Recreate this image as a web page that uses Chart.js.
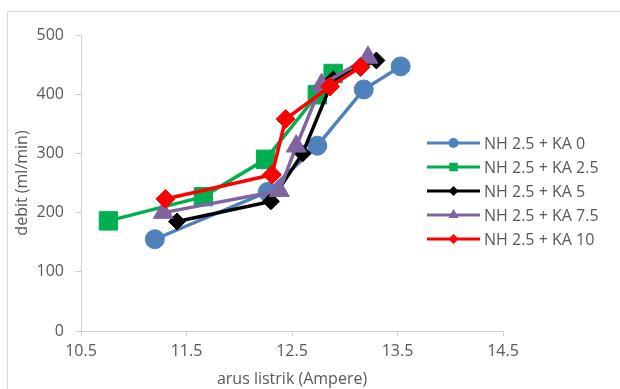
<!DOCTYPE html>
<html>
<head>
<meta charset="utf-8">
<script src="https://cdn.jsdelivr.net/npm/chart.js@4/dist/chart.umd.min.js"></script>
<style>
    body { margin: 0; background: #fff; }
    #frame { position: absolute; left: 7px; top: 11px; width: 700px; height: 500px; border: 1px solid #d9d9d9; }
    #wrap { position: absolute; left: 0; top: 0; width: 620px; height: 389px; }
</style>
</head>
<body>
<div id="frame"></div>
<div id="wrap"><canvas id="chart"></canvas></div>
<script>
// series: arus listrik (A) vs debit (ml/min)
const seriesLabels = ['NH 2.5 + KA 0', 'NH 2.5 + KA 2.5', 'NH 2.5 + KA 5', 'NH 2.5 + KA 7.5', 'NH 2.5 + KA 10'];

const ka0X = [11.2, 12.27, 12.74, 13.18, 13.53];
const ka0Y = [155, 235, 313, 408, 447];
const ka25X = [10.76, 11.66, 12.25, 12.74, 12.89];
const ka25Y = [186, 227, 290, 399, 435];
const ka5X = [11.41, 12.3, 12.6, 12.89, 13.3];
const ka5Y = [185, 219, 300, 425, 457];
const ka75X = [11.28, 12.38, 12.54, 12.78, 13.22];
const ka75Y = [200, 237, 312, 416, 462];
const ka10X = [11.3, 12.31, 12.44, 12.86, 13.15];
const ka10Y = [223, 264, 358, 413, 446];

const xTicks = [10.5, 11.5, 12.5, 13.5, 14.5];
const yTicks = [0, 100, 200, 300, 400, 500];

const colors = ['#4F81BD', '#00B050', '#000000', '#8064A2', '#FF0000'];
const styles = ['circle', 'rect', 'rectRot', 'triangle', 'rectRot'];
const radii = [9.5, 13, 8.5, 11.5, 9.5];
const legendRadii = [5, 6, 5, 6, 5];

const TEXT = '#595959';
const FONT = "'Open Sans', 'Noto Sans', sans-serif";

function toPoints(xs, ys) {
    return xs.map((x, i) => ({ x: x, y: ys[i] }));
}

const allX = [ka0X, ka25X, ka5X, ka75X, ka10X];
const allY = [ka0Y, ka25Y, ka5Y, ka75Y, ka10Y];

const datasets = seriesLabels.map((label, i) => ({
    label: label,
    data: toPoints(allX[i], allY[i]),
    borderColor: colors[i],
    backgroundColor: colors[i],
    pointBackgroundColor: colors[i],
    pointBorderColor: colors[i],
    pointStyle: styles[i],
    pointRadius: radii[i],
    pointBorderWidth: 1,
    borderWidth: 3.5,
    showLine: true,
    tension: 0,
    order: 5 - i,
}));

function drawMarker(ctx, style, r, x, y) {
    ctx.beginPath();
    if (style === 'circle') {
        ctx.arc(x, y, r, 0, Math.PI * 2);
    } else if (style === 'rect') {
        const s = r * Math.SQRT1_2;
        ctx.rect(x - s, y - s, 2 * s, 2 * s);
    } else if (style === 'rectRot') {
        ctx.moveTo(x, y - r);
        ctx.lineTo(x + r, y);
        ctx.lineTo(x, y + r);
        ctx.lineTo(x - r, y);
        ctx.closePath();
    } else if (style === 'triangle') {
        ctx.moveTo(x, y - r);
        ctx.lineTo(x + r * Math.sin(Math.PI / 3), y + r / 2);
        ctx.lineTo(x - r * Math.sin(Math.PI / 3), y + r / 2);
        ctx.closePath();
    }
    ctx.fill();
}

// Excel style legend: line with marker, then label
const lineLegend = {
    id: 'lineLegend',
    afterDraw(chart) {
        const ctx = chart.ctx;
        ctx.save();
        ctx.font = '16px ' + FONT;
        ctx.textBaseline = 'middle';
        seriesLabels.forEach((label, i) => {
            const y = 143 + i * 24;
            ctx.strokeStyle = colors[i];
            ctx.fillStyle = colors[i];
            ctx.lineWidth = 3;
            ctx.beginPath();
            ctx.moveTo(427, y);
            ctx.lineTo(480, y);
            ctx.stroke();
            drawMarker(ctx, styles[i], legendRadii[i], 453.5, y);
            ctx.fillStyle = TEXT;
            ctx.fillText(label, 484, y + 1);
        });
        ctx.restore();
    }
};

new Chart(document.getElementById('chart'), {
    type: 'scatter',
    data: { datasets: datasets },
    options: {
        responsive: true,
        maintainAspectRatio: false,
        animation: false,
        layout: { padding: { top: 35, right: 117, bottom: 0, left: 0 } },
        plugins: {
            legend: { display: false },
            tooltip: { enabled: false },
        },
        scales: {
            x: {
                type: 'linear',
                min: 10.5,
                max: 14.5,
                afterBuildTicks: (scale) => { scale.ticks = xTicks.map(v => ({ value: v })); },
                afterFit: (scale) => { scale.height = 58; },
                ticks: {
                    color: TEXT,
                    font: { family: FONT, size: 16 },
                    padding: 6,
                    callback: (v) => v.toFixed(1),
                },
                grid: { drawOnChartArea: false, drawTicks: true, tickLength: 5, color: '#d0d0d0' },
                border: { color: '#d0d0d0', width: 1 },
                title: {
                    display: true,
                    text: 'arus listrik (Ampere)',
                    color: TEXT,
                    font: { family: FONT, size: 16 },
                    padding: { top: 0, bottom: 0 },
                },
            },
            y: {
                min: 0,
                max: 500,
                afterBuildTicks: (scale) => { scale.ticks = yTicks.map(v => ({ value: v })); },
                afterFit: (scale) => { scale.width = 81; },
                ticks: {
                    color: TEXT,
                    font: { family: FONT, size: 16 },
                    padding: 11,
                },
                grid: { drawOnChartArea: false, drawTicks: true, tickLength: 6, color: '#d0d0d0' },
                border: { color: '#d0d0d0', width: 1 },
                title: {
                    display: true,
                    text: 'debit (ml/min)',
                    color: TEXT,
                    font: { family: FONT, size: 16 },
                    padding: { top: 13, bottom: 0 },
                },
            },
        },
    },
    plugins: [lineLegend],
});
</script>
</body>
</html>
